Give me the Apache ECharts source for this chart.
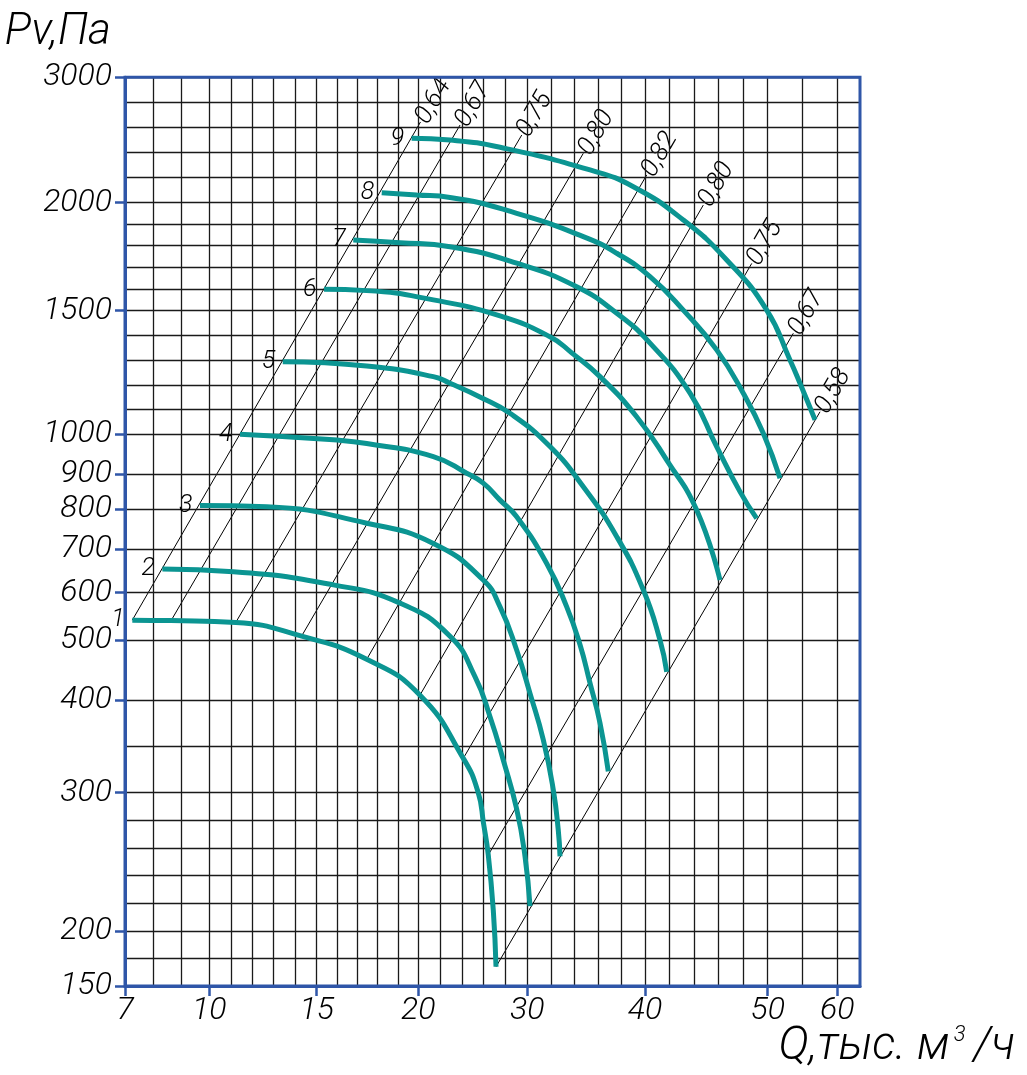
<!DOCTYPE html>
<html>
<head>
<meta charset="utf-8">
<script src="https://cdn.jsdelivr.net/npm/echarts@6/dist/echarts.min.js"></script>
<style>html,body{margin:0;padding:0;background:#fff}#c{width:1027px;height:1075px}</style>
</head>
<body>
<div id="c"></div>
<script>
// ---- data (Q in thousand m3/h, Pv in Pa) ----
const Q_TICKS = [7, 10, 15, 20, 30, 40, 50, 60];
const P_TICKS = [150, 200, 300, 400, 500, 600, 700, 800, 900, 1000, 1500, 2000, 3000];
const Q_GRID = [8, 9, 11, 12, 13, 14, 16, 17, 18, 19, 22, 24, 26, 28, 32, 34, 36, 38, 42, 44, 46, 48, 55];
const P_GRID = [175, 220, 240, 260, 280, 350, 1100, 1200, 1300, 1400, 1600, 1700, 1800, 1900, 2200, 2400, 2600, 2800];

const curve1 = [[7.26,542],[8.64,541],[11.23,537],[14.30,508],[17.46,468],[20.16,408],[24.13,337],[25.50,300],[25.98,278],[26.42,255],[26.88,215],[27.13,167.5]];
const curve2 = [[8.33,654],[11.12,648],[15.82,618],[19.10,578],[22.91,508],[25.20,439],[26.58,382],[27.80,335],[29.03,288],[29.79,254],[30.23,218]];
const curve3 = [[9.67,811],[12.67,807],[17.46,765],[21.38,714],[25.96,629],[27.50,570],[29.03,483],[30.23,411],[31.36,357],[32.21,303],[32.63,273],[32.78,254]];
const curve4 = [[11.43,1000],[15.82,986],[17.46,977],[21.38,944],[24.44,902],[25.96,874],[27.50,826],[29.03,781],[31.65,667],[33.35,570],[34.48,492],[35.33,428],[36.18,375],[36.88,323]];
const curve5 = [[13.42,1293],[17.46,1276],[21.38,1233],[22.91,1206],[25.70,1150],[28.41,1085],[31.93,969],[34.76,864],[37.60,731],[39.86,606],[41.22,500],[41.77,447]];
const curve6 = [[15.36,1598],[17.46,1592],[21.38,1549],[27.50,1478],[31.93,1394],[33.80,1328],[36.18,1233],[39.29,1071],[41.77,935],[44.21,798],[46.11,629]];
const curve7 = [[16.80,1826],[19.10,1814],[22.91,1795],[29.03,1719],[34.20,1610],[37.60,1489],[40.41,1368],[43.67,1166],[45.84,969],[47.74,850],[49.10,777]];
const curve8 = [[18.20,2078],[19.92,2060],[22.91,2040],[29.03,1950],[34.76,1842],[37.60,1765],[40.41,1657],[43.12,1502],[45.84,1341],[48.01,1166],[49.64,1004],[51.77,888]];
const curve9 = [[19.67,2513],[22.91,2499],[27.50,2441],[35.33,2260],[39.01,2126],[43.12,1919],[46.66,1734],[49.92,1502],[53.20,1300],[54.64,1206],[56.80,1058]];
const CURVES = [curve1, curve2, curve3, curve4, curve5, curve6, curve7, curve8, curve9];
const CURVE_NAMES = ['1','2','3','4','5','6','7','8','9'];

const EFF_NAMES = ['0,64','0,67','0,75','0,80','0,82','0,80','0,75','0,67','0,58'];
const EFF_START = [[7.26,542],[8.64,541],[11.23,537],[14.30,508.5],[17.46,467.8],[20.16,408.3],[24.13,337.1],[26.42,255],[27.13,167.5]];
const EFF_END = [[20.20,2643],[23.83,2619],[29.49,2539],[34.76,2393],[40.14,2220],[44.75,1988],[48.70,1718],[53.68,1408],[57.52,1091]];

// ---- the chart paper's non-uniform scale: relative position of each labelled tick along its axis ----
const Q_SCALE = [0, 84.3, 191.7, 293.3, 402.3, 520, 642.7, 712.3];
const Q_SCALE_MAX = 735;
const P_SCALE = [0, 55, 193.3, 286, 346, 393.3, 437, 476.7, 512, 551.7, 675.5, 783.5, 908.7];
const P_SCALE_MAX = 908.7;

function interp(v, ks, ps) {
  let i = 0;
  while (i < ks.length - 2 && v > ks[i + 1]) i++;
  return ps[i] + (v - ks[i]) * (ps[i + 1] - ps[i]) / (ks[i + 1] - ks[i]);
}
const sx = q => interp(q, Q_TICKS, Q_SCALE);
const sy = p => interp(p, P_TICKS, P_SCALE);
const pt = d => [sx(d[0]), sy(d[1])];

const BLUE = '#2f56a8';
const TEAL = '#0b9592';
const FONT = "Roboto, 'DejaVu Sans', sans-serif";
const TXT = { fontStyle: 'italic', fontWeight: 300, fontFamily: FONT, color: '#000' };

function labelFor(v, ticks, scale) {
  let best = 0, bd = 1e9;
  scale.forEach((s, i) => { const d = Math.abs(s - v); if (d < bd) { bd = d; best = i; } });
  return bd < 1 ? String(ticks[best]) : '';
}

const gridLines = [];
Q_TICKS.concat(Q_GRID).forEach(q => gridLines.push({ xAxis: sx(q) }));
P_TICKS.concat(P_GRID).forEach(p => gridLines.push({ yAxis: sy(p) }));

const series = [];
series.push({
  type: 'line', data: [[0, 0]], showSymbol: false, silent: true,
  lineStyle: { opacity: 0 }, z: 1,
  markLine: {
    silent: true, symbol: 'none', animation: false,
    label: { show: false },
    lineStyle: { color: '#1a1a1a', width: 1.3, type: 'solid' },
    emphasis: { disabled: true },
    data: gridLines
  }
});

const HIDDEN_SYMBOL = { symbol: 'circle', symbolSize: 1, showSymbol: true, itemStyle: { color: 'rgba(0,0,0,0)' } };

EFF_NAMES.forEach((name, i) => {
  series.push(Object.assign({
    type: 'line', name: 'eff' + i, z: 3, silent: true, animation: false,
    lineStyle: { color: '#000', width: 1 },
    label: { show: false },
    data: [
      pt(EFF_START[i]),
      { value: pt(EFF_END[i]),
        label: Object.assign({ show: true, formatter: name, position: 'right', distance: 1, rotate: 60,
                 align: 'left', verticalAlign: 'middle', fontSize: 26 }, TXT) }
    ]
  }, HIDDEN_SYMBOL));
});

CURVES.forEach((c, i) => {
  const data = c.map(pt);
  data[0] = { value: data[0], label: Object.assign({ show: true, formatter: CURVE_NAMES[i], position: 'left', distance: 7,
             fontSize: 25 }, TXT) };
  series.push(Object.assign({
    type: 'line', name: 'n' + CURVE_NAMES[i], z: 5, silent: true,
    smooth: 0.5, animation: false,
    label: { show: false },
    lineStyle: { color: TEAL, width: 5, cap: 'butt' },
    data: data
  }, HIDDEN_SYMBOL));
});

const chart = echarts.init(document.getElementById('c'), null, { renderer: 'canvas' });
chart.setOption({
  backgroundColor: '#fff',
  animation: false,
  grid: { left: 125, top: 77.3, width: Q_SCALE_MAX, height: P_SCALE_MAX, show: true,
          outerBoundsMode: 'none', containLabel: false,
          borderColor: BLUE, borderWidth: 3, backgroundColor: 'transparent', z: 10 },
  graphic: [{
    type: 'text', right: 12, top: 1024, silent: true,
    style: {
      text: 'Q,тыс. м{sup|3}/ч', fill: '#000', fontSize: 46, fontStyle: 'italic', fontWeight: 300, fontFamily: FONT,
      rich: { sup: { fontSize: 22, fontStyle: 'italic', fontWeight: 300, fontFamily: FONT, fill: '#000',
                     verticalAlign: 'top', padding: [0, 8, 22, 4] } }
    }
  }],
  xAxis: {
    type: 'value', min: 0, max: Q_SCALE_MAX, z: 10,
    axisLine: { show: true, lineStyle: { color: BLUE, width: 3 } },
    axisTick: { show: true, customValues: Q_SCALE, length: 10, inside: false, lineStyle: { color: BLUE, width: 2.5 } },
    axisLabel: Object.assign({ show: true, customValues: Q_SCALE, margin: 9, fontSize: 32,
                 formatter: v => labelFor(v, Q_TICKS, Q_SCALE) }, TXT),
    splitLine: { show: false }
  },
  yAxis: {
    type: 'value', min: 0, max: P_SCALE_MAX, z: 10,
    name: 'Pv,Па', nameLocation: 'end', nameGap: 22,
    nameTextStyle: Object.assign({ fontSize: 44, align: 'right', verticalAlign: 'bottom', padding: [0, 14, 0, 0] }, TXT),
    axisLine: { show: true, lineStyle: { color: BLUE, width: 3 } },
    axisTick: { show: true, customValues: P_SCALE, length: 10, inside: false, lineStyle: { color: BLUE, width: 2.5 } },
    axisLabel: Object.assign({ show: true, customValues: P_SCALE, margin: 13, fontSize: 32,
                 formatter: v => labelFor(v, P_TICKS, P_SCALE) }, TXT),
    splitLine: { show: false }
  },
  series: series
});
</script>
</body>
</html>
